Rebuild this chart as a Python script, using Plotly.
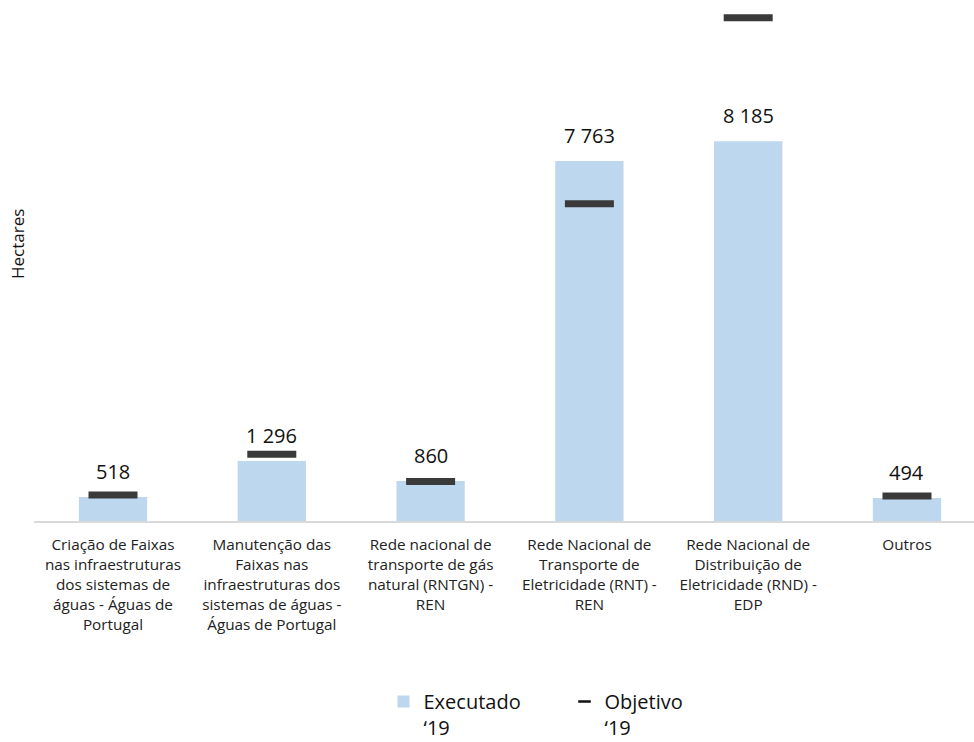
import plotly.graph_objects as go

# Categories (line breaks as displayed under each bar)
categories = [
    "Criação de Faixas<br>nas infraestruturas<br>dos sistemas de<br>águas - Águas de<br>Portugal",
    "Manutenção das<br>Faixas nas<br>infraestruturas dos<br>sistemas de águas -<br>Águas de Portugal",
    "Rede nacional de<br>transporte de gás<br>natural (RNTGN) -<br>REN",
    "Rede Nacional de<br>Transporte de<br>Eletricidade (RNT) -<br>REN",
    "Rede Nacional de<br>Distribuição de<br>Eletricidade (RND) -<br>EDP",
    "Outros",
]

# Hectares executed in 2019 and the 2019 target
executado_19 = [518, 1296, 860, 7763, 8185, 494]
objetivo_19 = [560, 1440, 850, 6840, 10850, 540]

FONT = "Open Sans"
BAR_COLOR = "#BDD7EE"
DASH_COLOR = "#3A3A3A"

W, H = 974, 742
L, R, T, B = 34, 0, 0, 221
plot_w = W - L - R
plot_h = H - T - B

fig = go.Figure()

fig.add_trace(go.Bar(
    x=categories, y=executado_19, name="Executado<br>‘19",
    marker=dict(color=BAR_COLOR, line=dict(width=0)),
    width=0.43,
))

# Target markers drawn as short horizontal dashes
fig.add_trace(go.Scatter(
    x=categories, y=objetivo_19, mode="markers", showlegend=False,
    marker=dict(symbol="line-ew", size=35, color=DASH_COLOR,
                line=dict(width=7, color=DASH_COLOR)),
))
# Legend entry for the target with a smaller dash
fig.add_trace(go.Scatter(
    x=[None], y=[None], mode="markers", name="Objetivo<br>‘19",
    marker=dict(symbol="line-ew", size=9, color="#111111",
                line=dict(width=2.5, color="#111111")),
))

# Value labels above each bar
for cat, v in zip(categories, executado_19):
    fig.add_annotation(
        x=cat, y=v, text=f"{v:,}".replace(",", " "),
        showarrow=False, yanchor="bottom", yshift=10,
        font=dict(family=FONT, size=20, color="#111111"),
    )

# Vertical axis title
fig.add_annotation(
    x=(17 - L) / plot_w, y=(H - B - 244) / plot_h,
    xref="paper", yref="paper", text="Hectares",
    xanchor="center", yanchor="middle",
    showarrow=False, textangle=-90,
    font=dict(family=FONT, size=17, color="#111111"),
)

fig.update_layout(
    width=W, height=H,
    margin=dict(l=L, r=R, t=T, b=B, pad=0, autoexpand=False),
    paper_bgcolor="white", plot_bgcolor="white",
    font=dict(family=FONT, size=15, color="#222222"),
    showlegend=True,
    legend=dict(
        orientation="h", x=(383.5 - L) / plot_w, xanchor="left",
        y=-(682 - plot_h) / plot_h, yanchor="top",
        valign="top", entrywidth=136, entrywidthmode="pixels",
        font=dict(family=FONT, size=20, color="#111111"),
        bgcolor="rgba(0,0,0,0)", traceorder="normal",
    ),
    xaxis=dict(
        range=[-0.4975, 5.422], showgrid=False, ticks="",
        showline=True, linecolor="#D9D9D9", linewidth=2,
        tickfont=dict(family=FONT, size=15.3, color="#222222"),
        ticklabelstandoff=9,
        tickangle=0, fixedrange=True, automargin=False,
    ),
    yaxis=dict(
        range=[0, plot_h * 8185 / 379.7], showgrid=False, zeroline=False,
        showticklabels=False, ticks="", showline=False, fixedrange=True,
        automargin=False,
    ),
)

fig.write_html("out.html")
